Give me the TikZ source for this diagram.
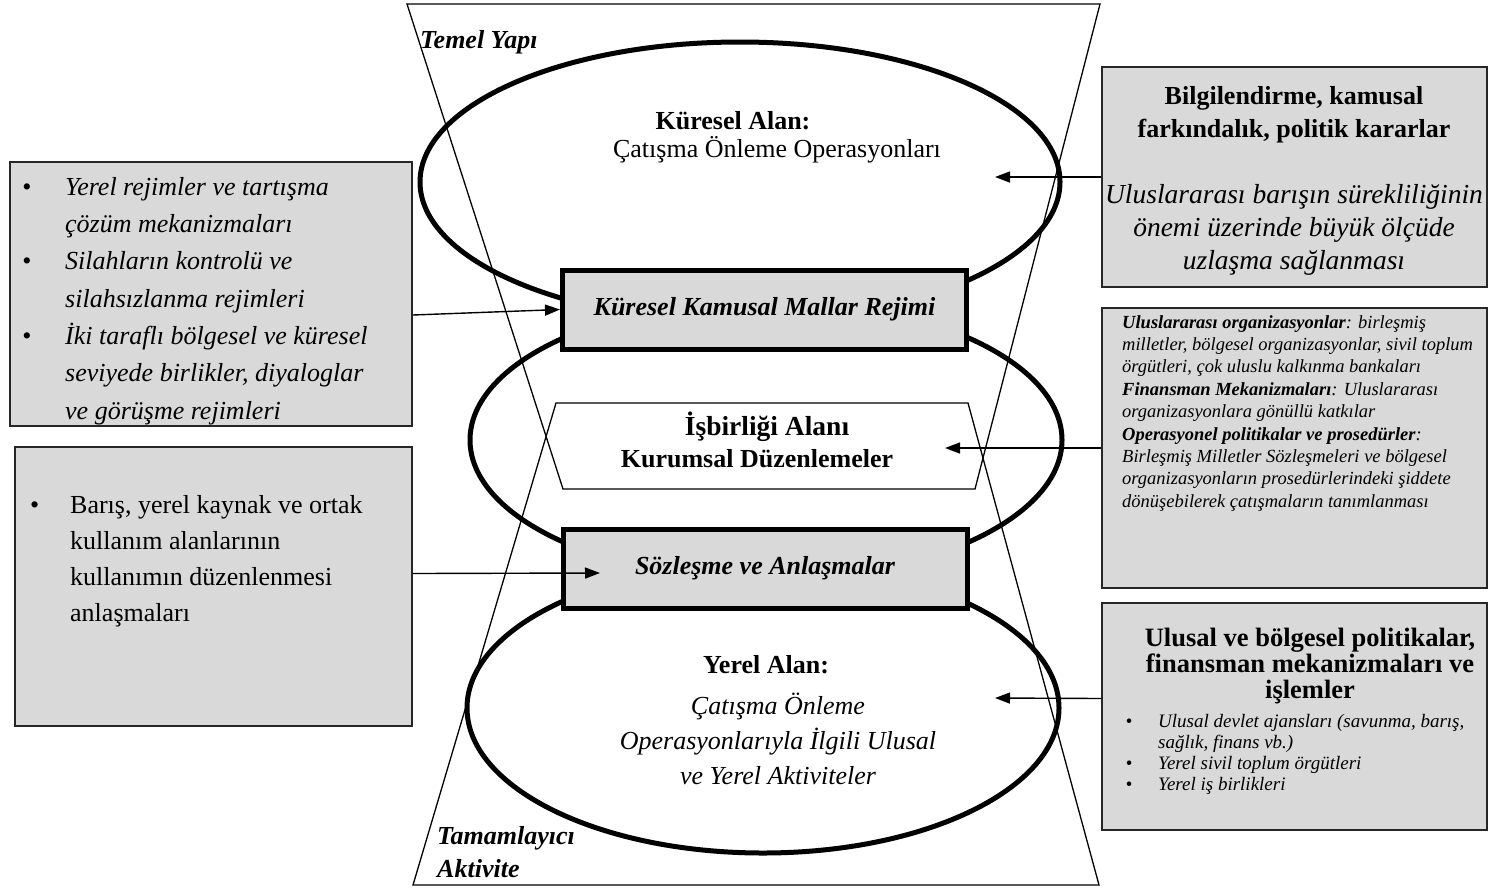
\documentclass[tikz,border=0pt]{standalone}
\usepackage{fontspec}
\setmainfont{Liberation Serif}
\usetikzlibrary{arrows.meta}
\definecolor{boxgray}{HTML}{D9D9D9}
\begin{document}
\begin{tikzpicture}[x=1pt,y=-1pt,
  trap/.style={line width=1.3pt},
  ell/.style={line width=5pt},
  side/.style={draw=black!85, line width=1.8pt, fill=boxgray, inner sep=0pt},
  mid/.style={draw=black, line width=5pt, fill=boxgray, inner sep=0pt, minimum width=404pt, minimum height=79pt},
  arr/.style={line width=1.4pt, -{Triangle[length=15pt,width=11pt]}},
  bigb/.style={font=\fontsize{26}{33}\selectfont\bfseries, inner sep=0pt},
  bigr/.style={font=\fontsize{26}{35}\selectfont, inner sep=0pt},
  bigi/.style={font=\fontsize{26}{35}\selectfont\itshape, inner sep=0pt},
  bigbi/.style={font=\fontsize{26}{33}\selectfont\bfseries\itshape, inner sep=0pt},
]
\useasboundingbox (0,0) rectangle (1488,887);
\fill[white] (0,0) rectangle (1488,887);

% hourglass trapezoids
\draw[trap] (407,4) -- (1100,4) -- (975,489) -- (563,489) -- cycle;
\draw[trap] (413,885) -- (1099,885) -- (968,403) -- (556,403) -- cycle;

% ellipses
\draw[ell] (740,182) ellipse [x radius=320pt, y radius=140pt];
\draw[ell] (766,440) ellipse [x radius=296pt, y radius=140pt];
\draw[ell] (763,708) ellipse [x radius=296pt, y radius=145pt];

% central boxes
\node[mid, font=\fontsize{26}{33}\selectfont\bfseries\itshape] (K1) at (764.5,309.5) {Küresel Kamusal Mallar Rejimi};
\node[mid, font=\fontsize{26}{33}\selectfont\bfseries\itshape] (K2) at (765,568.5) {Sözleşme ve Anlaşmalar};

% side boxes
\node[side, minimum width=402pt, minimum height=264pt] (L1) at (211,294) {};
\node[side, minimum width=397pt, minimum height=279pt] (L2) at (213.5,586.5) {};
\node[side, minimum width=385pt, minimum height=220pt] (R1) at (1294.5,177) {};
\node[side, minimum width=385pt, minimum height=280pt] (R2) at (1294.5,448) {};
\node[side, minimum width=385pt, minimum height=227pt] (R3) at (1294.5,716.5) {};

% arrow tips
\coordinate (t1) at (995,177);
\coordinate (t3) at (945,448);
\coordinate (t4) at (600,573);
\coordinate (t5) at (995,698);

\draw[arr] (R1.west) -- (t1);
\draw[arr] ([yshift=-21pt]L1.east) -- (K1.west);
\draw[arr] (R2.west) -- (t3);
\draw[arr] ([yshift=13pt]L2.east) -- (t4);
\draw[arr] ([yshift=18pt]R3.west) -- (t5);

% labels in the hourglass
\node[bigbi, anchor=base west] (temel) at (420,48) {Temel Yapı};
\node[bigb, anchor=base] (kalan) at (733,129) {Küresel Alan:};
\node[bigr, anchor=base] (kop) at (777,157) {Çatışma Önleme Operasyonları};
\node[font=\fontsize{27.5}{33}\selectfont\bfseries, inner sep=0pt, anchor=base] (isb) at (767,435) {İşbirliği Alanı};
\node[bigb, anchor=base] (kur) at (757,467) {Kurumsal Düzenlemeler};
\node[bigb, anchor=base] (yalan) at (766,673) {Yerel Alan:};
\node[bigi, align=center, anchor=north] (yop) at (778,693) {Çatışma Önleme\\Operasyonlarıyla İlgili Ulusal\\ve Yerel Aktiviteler};
\node[bigbi, align=left, anchor=north west] (tam) at (437,826) {Tamamlayıcı\\Aktivite};

% left box texts
\node[font=\fontsize{26}{37.3}\selectfont\itshape, align=left, anchor=north west, inner sep=0pt] (l1t) at (65,177) {%
\llap{\textbullet\hspace{34pt}}Yerel rejimler ve tartışma\\
çözüm mekanizmaları\\
\llap{\textbullet\hspace{34pt}}Silahların kontrolü ve\\
silahsızlanma rejimleri\\
\llap{\textbullet\hspace{34pt}}İki taraflı bölgesel ve küresel\\
seviyede birlikler, diyaloglar\\
ve görüşme rejimleri};

\node[font=\fontsize{26}{36}\selectfont, align=left, anchor=north west, inner sep=0pt] (l2t) at (70,495) {%
\llap{\textbullet\hspace{31pt}}Barış, yerel kaynak ve ortak\\
kullanım alanlarının\\
kullanımın düzenlenmesi\\
anlaşmaları};

% right box texts
\node[bigb, align=center, anchor=north] (r1h) at (1294,86) {Bilgilendirme, kamusal\\farkındalık, politik kararlar};
\node[font=\fontsize{27.5}{33}\selectfont\itshape, align=center, anchor=north, inner sep=0pt] (r1t) at (1294,184) {Uluslararası barışın sürekliliğinin\\önemi üzerinde büyük ölçüde\\uzlaşma sağlanması};

\node[font=\fontsize{18.5}{22.4}\selectfont\itshape, align=left, anchor=north west, inner sep=0pt] (r2t) at (1122,315) {%
\textbf{Uluslararası organizasyonlar}: birleşmiş\\
milletler, bölgesel organizasyonlar, sivil toplum\\
örgütleri, çok uluslu kalkınma bankaları\\
\textbf{Finansman Mekanizmaları}: Uluslararası\\
organizasyonlara gönüllü katkılar\\
\textbf{Operasyonel politikalar ve prosedürler}:\\
Birleşmiş Milletler Sözleşmeleri ve bölgesel\\
organizasyonların prosedürlerindeki şiddete\\
dönüşebilerek çatışmaların tanımlanması};

\node[font=\fontsize{26.5}{26}\selectfont\bfseries, align=center, anchor=north, inner sep=0pt] (r3h) at (1310,628) {Ulusal ve bölgesel politikalar,\\finansman mekanizmaları ve\\işlemler};
\node[font=\fontsize{19}{21}\selectfont\itshape, align=left, anchor=north west, inner sep=0pt] (r3t) at (1158,714) {%
\llap{\textbullet\hspace{26pt}}Ulusal devlet ajansları (savunma, barış,\\
sağlık, finans vb.)\\
\llap{\textbullet\hspace{26pt}}Yerel sivil toplum örgütleri\\
\llap{\textbullet\hspace{26pt}}Yerel iş birlikleri};
\end{tikzpicture}
\end{document}
